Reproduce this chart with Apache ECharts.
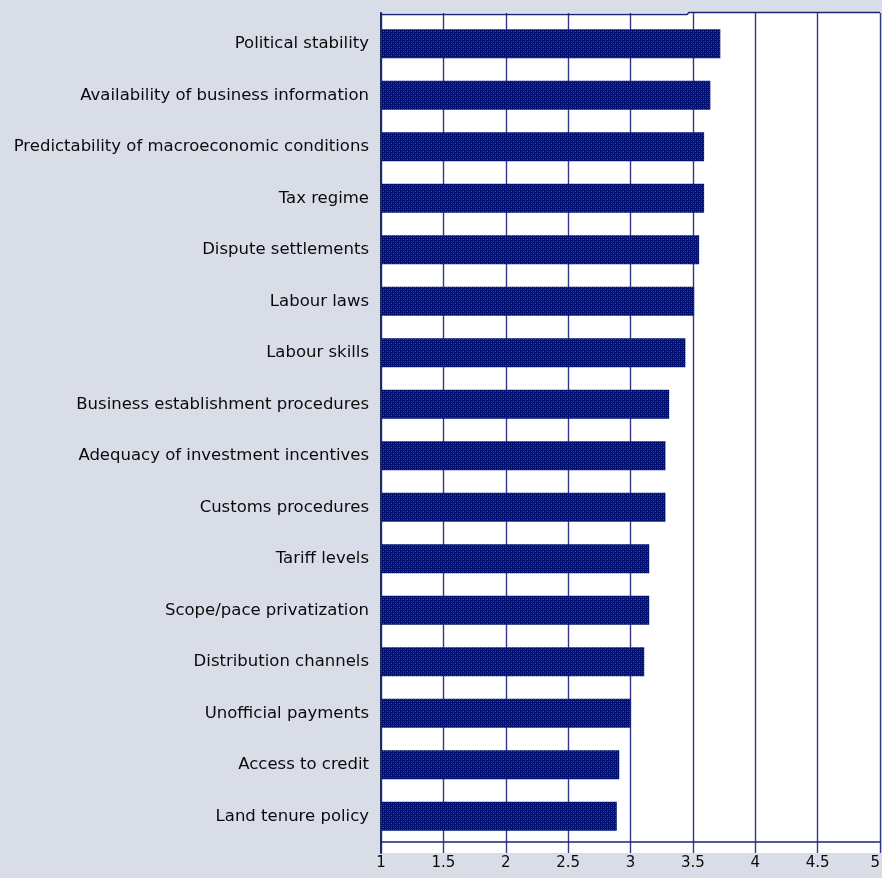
<!DOCTYPE html>
<html>
<head>
<meta charset="utf-8">
<script src="https://cdn.jsdelivr.net/npm/echarts@6/dist/echarts.min.js"></script>
<style>
  html, body { margin: 0; padding: 0; background: #d9dde8; overflow: hidden; }
  #chart { width: 882px; height: 878px; }
</style>
</head>
<body>
<div id="chart"></div>
<script>
// Investment climate factors, mean rating (1 = worst, 5 = best)
const categories = [
  'Political stability',
  'Availability of business information',
  'Predictability of macroeconomic conditions',
  'Tax regime',
  'Dispute settlements',
  'Labour laws',
  'Labour skills',
  'Business establishment procedures',
  'Adequacy of investment incentives',
  'Customs procedures',
  'Tariff levels',
  'Scope/pace privatization',
  'Distribution channels',
  'Unofficial payments',
  'Access to credit',
  'Land tenure policy'
];
const scores = [3.72, 3.64, 3.59, 3.59, 3.55, 3.51, 3.44, 3.31, 3.28, 3.28, 3.15, 3.15, 3.11, 3.0, 2.91, 2.89];
const axisMin = 1;
const axisMax = 5;
const axisStep = 0.5;

// Navy bar fill with a fine lighter dot texture
function makeTexture() {
  const c = document.createElement('canvas');
  c.width = 4; c.height = 4;
  const g = c.getContext('2d');
  g.fillStyle = '#001072';
  g.fillRect(0, 0, 4, 4);
  g.fillStyle = '#3a4aa8';
  g.fillRect(1, 1, 1, 1);
  g.fillRect(3, 3, 1, 1);
  g.fillStyle = '#1a2a90';
  g.fillRect(3, 1, 1, 1);
  g.fillRect(1, 3, 1, 1);
  return c;
}

const chart = echarts.init(document.getElementById('chart'), null, { renderer: 'canvas' });
const font = '"DejaVu Sans", Verdana, sans-serif';

chart.setOption({
  backgroundColor: '#d9dde8',
  animation: false,
  grid: [
    // frame with vertical grid lines
    { left: 381, width: 499, top: 13, height: 840, show: true, backgroundColor: '#ffffff', borderWidth: 0,
      containLabel: false, outerBoundsMode: 'none' },
    // bar area
    { left: 381, width: 499, top: 18, height: 824, containLabel: false, outerBoundsMode: 'none' }
  ],
  xAxis: [
    {
      gridIndex: 0, type: 'value', min: axisMin, max: axisMax, interval: axisStep,
      axisLine: { show: false }, axisTick: { show: false },
      splitLine: { show: true, lineStyle: { color: '#33378a', width: 1.4 } },
      axisLabel: { color: '#0a0a0a', fontFamily: font, fontSize: 15, margin: 3, alignMaxLabel: 'right' }
    },
    {
      gridIndex: 1, type: 'value', min: axisMin, max: axisMax, interval: axisStep,
      axisLine: { show: true, onZero: false, lineStyle: { color: '#1c2470', width: 1.5 } },
      axisTick: { show: false }, splitLine: { show: false }, axisLabel: { show: false }
    }
  ],
  yAxis: [
    {
      gridIndex: 0, type: 'value', min: 0, max: 1,
      axisLine: { show: true, lineStyle: { color: '#1c2a5c', width: 2 } },
      axisTick: { show: false }, axisLabel: { show: false }, splitLine: { show: false }
    },
    {
      gridIndex: 1, type: 'category', data: categories, inverse: true,
      axisLine: { show: false }, axisTick: { show: false },
      axisLabel: { color: '#0a0a0a', fontFamily: font, fontSize: 16.5, margin: 12 }
    }
  ],
  graphic: [
    {
      type: 'polyline', z: 100, silent: true,
      shape: { points: [[381, 14.5], [687, 14.5], [689, 12.5], [880, 12.5]] },
      style: { stroke: '#1c2470', lineWidth: 1.5, fill: null }
    }
  ],
  series: [
    {
      type: 'bar', xAxisIndex: 1, yAxisIndex: 1,
      data: scores,
      barCategoryGap: '44%',
      itemStyle: { color: { image: makeTexture(), repeat: 'repeat' } }
    }
  ]
});
</script>
</body>
</html>
